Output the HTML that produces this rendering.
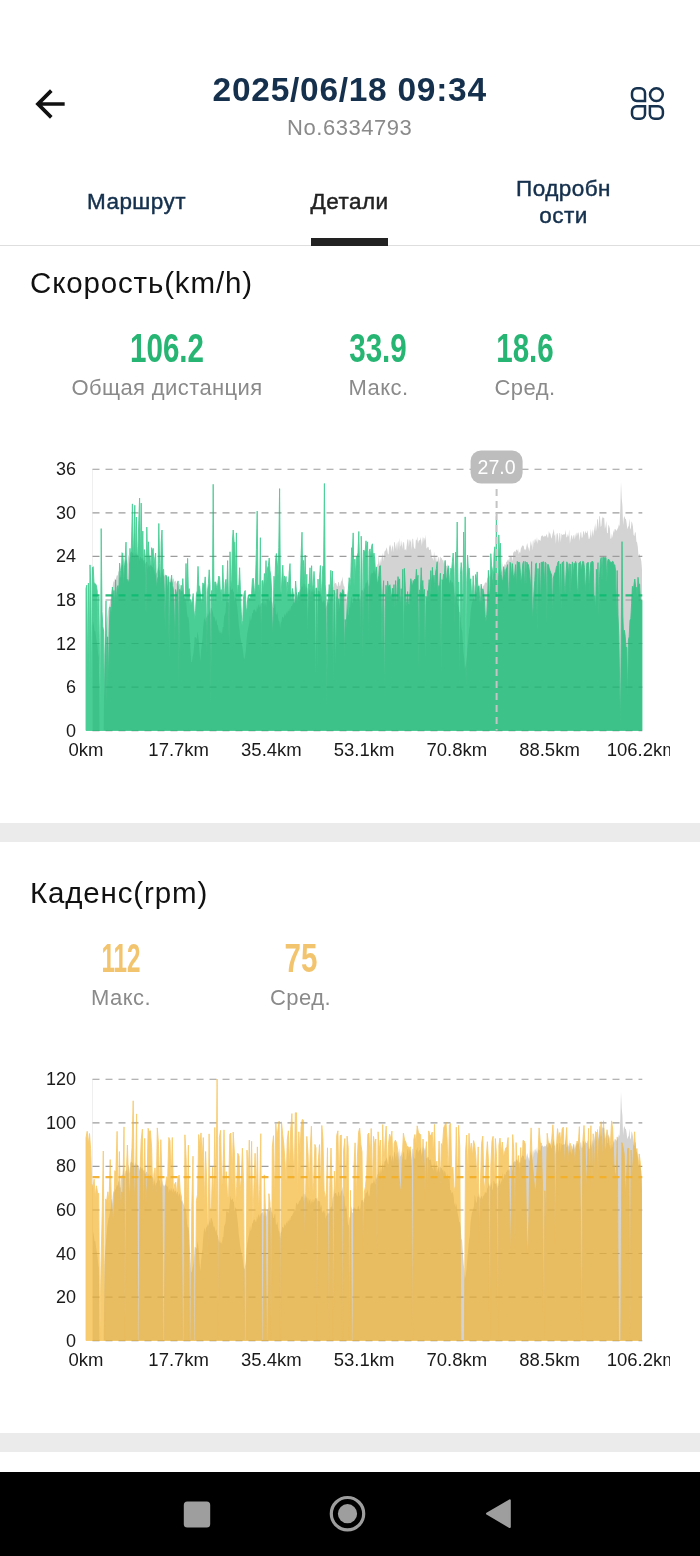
<!DOCTYPE html>
<html lang="ru">
<head>
<meta charset="utf-8">
<title>2025/06/18 09:34</title>
<style>
*{margin:0;padding:0;box-sizing:border-box}
html,body{width:700px;height:1556px;overflow:hidden;background:#fff}
body{position:relative;font-family:"Liberation Sans",sans-serif;color:#111}
.abs{position:absolute;white-space:nowrap}
.c{transform:translateX(-50%)}
.title{left:349.7px;top:70px;font-size:33.5px;line-height:40px;font-weight:700;color:#14304d;letter-spacing:.72px}
.sub{left:349.7px;top:114.5px;font-size:22px;line-height:26px;color:#8a8a8a;letter-spacing:.55px}
.tab{font-size:22.5px;line-height:26px;letter-spacing:.45px;color:#14304d;text-align:center;-webkit-text-stroke:0.45px currentColor}
.tab.on{color:#222}
.ind{left:310.5px;top:238px;width:77.7px;height:8px;background:#222}
.hr{left:0;top:245px;width:700px;height:1.4px;background:#dedede}
.h2{left:30px;font-size:29.5px;line-height:34px;color:#111;letter-spacing:.85px}
.num{font-size:40.5px;line-height:40px;margin-top:-.1px;font-weight:700;transform:translateX(-50%) scaleX(.73);transform-origin:50% 50%}
.g{color:#27b573}
.o{color:#f3c46e}
.lbl{font-size:22px;line-height:26px;color:#8a8a8a;letter-spacing:.4px}
.sep{left:0;width:700px;height:19px;background:#ebebeb}
.chart{position:absolute;left:0;font-family:"Liberation Sans",sans-serif}
.nav{left:0;top:1471.5px;width:700px;height:85px;background:#000}
</style>
</head>
<body>
<!-- header -->
<svg class="abs" style="left:28.4px;top:82px" width="44" height="44" viewBox="0 0 24 24"><path d="M20 11H7.83l5.59-5.59L12 4l-8 8 8 8 1.41-1.41L7.83 13H20v-2z" fill="#111"/></svg>
<div class="abs c title">2025/06/18 09:34</div>
<div class="abs c sub">No.6334793</div>
<svg class="abs" style="left:626px;top:82px" width="44" height="44" viewBox="0 0 44 44" fill="none" stroke="#16324f" stroke-width="2.5">
<path d="M10.8,6.3H14.2A4.8,4.8 0 0 1 19,11.1V18.9H10.8A4.8,4.8 0 0 1 6,14.1V11.1A4.8,4.8 0 0 1 10.8,6.3Z"/>
<circle cx="30.4" cy="12.6" r="6.4"/>
<path d="M10.8,24.2H19V32A4.8,4.8 0 0 1 14.2,36.8H10.8A4.8,4.8 0 0 1 6,32V29A4.8,4.8 0 0 1 10.8,24.2Z"/>
<path d="M23.9,24.2H32.1A4.8,4.8 0 0 1 36.9,29V32A4.8,4.8 0 0 1 32.1,36.8H28.7A4.8,4.8 0 0 1 23.9,32Z"/>
</svg>
<!-- tabs -->
<div class="abs c tab" style="left:136.5px;top:189px">Маршрут</div>
<div class="abs c tab on" style="left:349.5px;top:189px">Детали</div>
<div class="abs c tab" style="left:563.5px;top:176.2px;line-height:26.9px">Подробн<br>ости</div>
<div class="abs hr"></div>
<div class="abs ind"></div>

<!-- speed -->
<div class="abs h2" style="top:266px">Скорость(km/h)</div>
<div class="abs num g" style="left:166.5px;top:328px">106.2</div>
<div class="abs c lbl" style="left:167px;top:375px">Общая дистанция</div>
<div class="abs num g" style="left:378px;top:328px">33.9</div>
<div class="abs c lbl" style="left:378.5px;top:375px">Макс.</div>
<div class="abs num g" style="left:525px;top:328px">18.6</div>
<div class="abs c lbl" style="left:525px;top:375px">Сред.</div>
<svg class="chart" style="top:439px" width="670" height="330" viewBox="0 439 670 330">
<path d="M92.5,730.5L92.5,618.4L93.2,621.9L93.9,626.3L94.6,631.2L95.3,630.9L96.0,636.7L96.7,641.6L97.4,645.4L98.1,653.8L98.8,657.6L99.5,730.5L100.2,730.5L100.9,730.5L101.6,730.5L102.3,730.5L103.0,730.5L103.7,730.5L104.4,655.0L105.1,642.0L105.8,633.4L106.5,625.6L107.2,617.1L107.9,612.1L108.6,608.1L109.3,606.4L110.0,601.6L110.7,599.7L111.4,588.6L112.1,593.5L112.8,585.2L113.5,580.9L114.2,582.2L114.9,577.9L115.6,580.4L116.3,576.9L117.0,574.8L117.7,575.9L118.4,571.4L119.1,571.1L119.8,578.1L120.5,577.2L121.2,566.2L121.9,564.8L122.6,565.2L123.3,556.8L124.0,561.9L124.7,567.8L125.4,560.5L126.1,561.3L126.8,558.9L127.5,564.2L128.2,556.3L128.9,554.4L129.6,563.4L130.3,553.2L131.0,551.7L131.7,551.8L132.4,553.4L133.1,551.8L133.8,555.7L134.5,555.8L135.2,552.2L135.9,555.9L136.6,554.1L137.3,554.8L138.0,554.9L138.7,557.1L139.4,560.9L140.1,556.3L140.8,557.0L141.5,559.0L142.2,557.7L142.9,559.4L143.6,560.8L144.3,559.7L145.0,564.4L145.7,562.7L146.4,561.4L147.1,562.2L147.8,569.5L148.5,563.8L149.2,567.6L149.9,565.1L150.6,565.2L151.3,565.6L152.0,567.0L152.7,567.4L153.4,560.2L154.1,574.2L154.8,568.9L155.5,575.9L156.2,573.3L156.9,572.6L157.6,569.5L158.3,565.8L159.0,570.4L159.7,570.0L160.4,575.0L161.1,578.5L161.8,569.6L162.5,572.0L163.2,576.3L163.9,574.1L164.6,576.5L165.3,574.0L166.0,575.9L166.7,575.4L167.4,577.3L168.1,575.4L168.8,583.5L169.5,578.2L170.2,581.5L170.9,577.5L171.6,579.0L172.3,582.9L173.0,578.3L173.7,578.7L174.4,582.5L175.1,580.6L175.8,581.3L176.5,583.9L177.2,581.7L177.9,582.0L178.6,587.0L179.3,583.0L180.0,584.7L180.7,589.4L181.4,591.7L182.1,589.8L182.8,592.3L183.5,593.8L184.2,596.2L184.9,598.8L185.6,598.6L186.3,603.2L187.0,613.2L187.7,617.4L188.4,617.0L189.1,622.5L189.8,637.4L190.5,650.5L191.2,662.1L191.9,662.3L192.6,657.2L193.3,654.4L194.0,647.2L194.7,636.8L195.4,637.2L196.1,637.7L196.8,638.9L197.5,630.9L198.2,635.2L198.9,642.4L199.6,653.2L200.3,661.2L201.0,652.3L201.7,644.4L202.4,639.4L203.1,629.1L203.8,621.1L204.5,617.3L205.2,622.5L205.9,618.7L206.6,617.0L207.3,615.7L208.0,613.0L208.7,616.0L209.4,609.0L210.1,614.0L210.8,608.1L211.5,608.0L212.2,610.0L212.9,612.4L213.6,617.0L214.3,616.2L215.0,618.8L215.7,621.9L216.4,618.8L217.1,624.4L217.8,625.4L218.5,629.4L219.2,632.9L219.9,630.0L220.6,633.2L221.3,631.9L222.0,634.2L222.7,627.1L223.4,627.1L224.1,616.4L224.8,614.7L225.5,612.8L226.2,602.3L226.9,600.5L227.6,602.1L228.3,602.9L229.0,600.6L229.7,594.2L230.4,585.5L231.1,589.8L231.8,590.1L232.5,588.0L233.2,591.4L233.9,592.0L234.6,601.0L235.3,597.7L236.0,597.7L236.7,603.2L237.4,608.9L238.1,616.0L238.8,624.7L239.5,629.7L240.2,636.2L240.9,640.1L241.6,643.8L242.3,645.9L243.0,650.9L243.7,656.9L244.4,659.4L245.1,655.9L245.8,651.2L246.5,640.6L247.2,633.8L247.9,630.1L248.6,626.0L249.3,623.2L250.0,615.2L250.7,621.3L251.4,619.0L252.1,613.5L252.8,613.0L253.5,610.1L254.2,609.8L254.9,609.3L255.6,611.7L256.3,611.8L257.0,605.5L257.7,609.5L258.4,604.4L259.1,604.7L259.8,607.7L260.5,604.8L261.2,603.0L261.9,603.6L262.6,601.4L263.3,600.3L264.0,606.7L264.7,601.3L265.4,602.5L266.1,607.0L266.8,599.8L267.5,600.7L268.2,597.6L268.9,601.6L269.6,600.0L270.3,597.8L271.0,597.1L271.7,602.0L272.4,602.7L273.1,607.9L273.8,608.0L274.5,604.8L275.2,603.2L275.9,614.2L276.6,614.8L277.3,611.6L278.0,617.1L278.7,621.1L279.4,621.4L280.1,628.7L280.8,622.7L281.5,621.4L282.2,617.0L282.9,616.8L283.6,618.4L284.3,615.0L285.0,613.6L285.7,616.2L286.4,611.5L287.1,614.2L287.8,610.7L288.5,611.4L289.2,608.0L289.9,611.7L290.6,607.9L291.3,605.9L292.0,605.9L292.7,603.9L293.4,603.3L294.1,599.2L294.8,601.9L295.5,599.1L296.2,592.5L296.9,593.3L297.6,594.7L298.3,594.0L299.0,591.5L299.7,590.6L300.4,590.3L301.1,587.7L301.8,586.0L302.5,587.3L303.2,583.0L303.9,591.8L304.6,583.5L305.3,584.5L306.0,588.9L306.7,586.1L307.4,588.3L308.1,594.2L308.8,587.5L309.5,591.2L310.2,588.7L310.9,595.3L311.6,590.3L312.3,592.7L313.0,588.7L313.7,592.7L314.4,590.4L315.1,588.6L315.8,587.7L316.5,588.9L317.2,587.3L317.9,591.4L318.6,590.7L319.3,590.9L320.0,591.9L320.7,597.9L321.4,594.4L322.1,601.3L322.8,603.0L323.5,599.7L324.2,603.7L324.9,599.3L325.6,609.3L326.3,606.1L327.0,605.0L327.7,602.3L328.4,604.0L329.1,598.7L329.8,604.1L330.5,597.1L331.2,597.5L331.9,595.6L332.6,588.5L333.3,586.2L334.0,577.9L334.7,583.9L335.4,583.1L336.1,583.0L336.8,585.4L337.5,586.7L338.2,582.1L338.9,582.3L339.6,586.3L340.3,585.5L341.0,581.6L341.7,581.0L342.4,576.5L343.1,583.1L343.8,586.0L344.5,586.8L345.2,598.9L345.9,594.8L346.6,599.1L347.3,607.1L348.0,614.4L348.7,615.5L349.4,606.8L350.1,608.1L350.8,600.0L351.5,595.9L352.2,602.2L352.9,603.2L353.6,597.0L354.3,598.5L355.0,597.0L355.7,600.0L356.4,599.9L357.1,602.1L357.8,596.5L358.5,595.5L359.2,598.5L359.9,600.4L360.6,597.6L361.3,590.1L362.0,590.4L362.7,589.8L363.4,592.4L364.1,586.9L364.8,589.8L365.5,583.6L366.2,582.0L366.9,583.5L367.6,578.9L368.3,584.4L369.0,586.7L369.7,584.6L370.4,575.9L371.1,572.4L371.8,574.0L372.5,573.1L373.2,572.7L373.9,569.6L374.6,571.9L375.3,574.8L376.0,565.7L376.7,569.4L377.4,564.7L378.1,563.7L378.8,555.2L379.5,566.0L380.2,558.6L380.9,564.3L381.6,558.0L382.3,556.0L383.0,552.4L383.7,561.6L384.4,551.7L385.1,551.1L385.8,550.0L386.5,547.3L387.2,549.4L387.9,553.8L388.6,554.8L389.3,544.6L390.0,547.3L390.7,544.2L391.4,552.1L392.1,547.3L392.8,545.1L393.5,552.4L394.2,542.2L394.9,542.0L395.6,549.3L396.3,542.2L397.0,551.3L397.7,542.8L398.4,541.1L399.1,550.2L399.8,537.7L400.5,546.8L401.2,544.9L401.9,540.2L402.6,548.9L403.3,542.6L404.0,541.7L404.7,550.2L405.4,548.9L406.1,550.8L406.8,544.2L407.5,539.3L408.2,539.5L408.9,546.9L409.6,539.0L410.3,542.2L411.0,539.0L411.7,549.9L412.4,538.8L413.1,538.7L413.8,546.8L414.5,548.5L415.2,549.3L415.9,539.5L416.6,540.5L417.3,536.4L418.0,543.8L418.7,540.8L419.4,540.2L420.1,540.0L420.8,536.9L421.5,546.3L422.2,536.3L422.9,544.0L423.6,537.5L424.3,537.9L425.0,541.0L425.7,534.7L426.4,548.6L427.1,547.9L427.8,546.8L428.5,547.1L429.2,550.1L429.9,550.1L430.6,549.1L431.3,552.6L432.0,558.8L432.7,557.5L433.4,560.9L434.1,551.4L434.8,557.7L435.5,557.0L436.2,563.2L436.9,556.3L437.6,562.4L438.3,557.7L439.0,556.4L439.7,563.2L440.4,556.1L441.1,558.0L441.8,558.3L442.5,560.4L443.2,559.7L443.9,563.7L444.6,560.4L445.3,562.1L446.0,565.8L446.7,566.0L447.4,564.0L448.1,569.4L448.8,568.0L449.5,567.4L450.2,580.5L450.9,579.8L451.6,583.5L452.3,581.7L453.0,583.0L453.7,587.1L454.4,595.5L455.1,592.0L455.8,597.4L456.5,593.2L457.2,600.8L457.9,604.6L458.6,607.7L459.3,612.3L460.0,612.0L460.7,617.5L461.4,628.8L462.1,630.2L462.8,642.4L463.5,652.9L464.2,658.5L464.9,668.9L465.6,665.7L466.3,661.0L467.0,653.9L467.7,644.3L468.4,637.2L469.1,629.4L469.8,625.8L470.5,613.0L471.2,607.4L471.9,602.6L472.6,601.3L473.3,598.8L474.0,595.9L474.7,584.2L475.4,587.3L476.1,592.9L476.8,592.1L477.5,586.2L478.2,587.3L478.9,582.9L479.6,587.0L480.3,589.0L481.0,586.7L481.7,585.8L482.4,589.4L483.1,585.1L483.8,586.6L484.5,584.0L485.2,581.9L485.9,582.9L486.6,582.7L487.3,578.3L488.0,577.3L488.7,571.7L489.4,576.8L490.1,573.0L490.8,577.7L491.5,570.5L492.2,579.5L492.9,579.8L493.6,570.7L494.3,571.6L495.0,573.9L495.7,573.4L496.4,573.1L497.1,578.0L497.8,572.5L498.5,576.0L499.2,568.8L499.9,571.0L500.6,575.1L501.3,569.5L502.0,572.8L502.7,561.6L503.4,569.9L504.1,566.1L504.8,563.7L505.5,565.5L506.2,561.7L506.9,561.7L507.6,560.0L508.3,559.2L509.0,561.4L509.7,557.0L510.4,556.5L511.1,555.5L511.8,557.3L512.5,561.4L513.2,552.3L513.9,552.6L514.6,550.7L515.3,552.3L516.0,550.2L516.7,549.3L517.4,551.3L518.1,548.6L518.8,554.4L519.5,551.5L520.2,552.9L520.9,548.5L521.6,546.9L522.3,545.6L523.0,545.6L523.7,545.9L524.4,550.1L525.1,548.8L525.8,550.4L526.5,546.1L527.2,543.0L527.9,546.6L528.6,548.2L529.3,551.6L530.0,546.9L530.7,540.6L531.4,546.5L532.1,540.3L532.8,550.5L533.5,541.8L534.2,539.0L534.9,543.5L535.6,538.3L536.3,542.1L537.0,536.9L537.7,544.0L538.4,538.9L539.1,540.5L539.8,539.7L540.5,541.3L541.2,535.4L541.9,536.4L542.6,535.1L543.3,536.5L544.0,536.9L544.7,535.6L545.4,536.6L546.1,535.4L546.8,533.8L547.5,537.5L548.2,537.6L548.9,531.0L549.6,533.5L550.3,533.6L551.0,536.9L551.7,538.8L552.4,534.4L553.1,532.1L553.8,528.7L554.5,535.9L555.2,534.3L555.9,544.1L556.6,534.0L557.3,532.7L558.0,535.4L558.7,543.0L559.4,533.0L560.1,533.2L560.8,542.3L561.5,533.6L562.2,534.8L562.9,534.9L563.6,534.2L564.3,534.3L565.0,534.4L565.7,529.8L566.4,537.5L567.1,537.1L567.8,534.0L568.5,537.0L569.2,529.3L569.9,543.8L570.6,539.5L571.3,535.3L572.0,535.6L572.7,539.7L573.4,535.8L574.1,534.6L574.8,539.4L575.5,535.4L576.2,532.3L576.9,536.4L577.6,532.9L578.3,532.2L579.0,534.9L579.7,541.0L580.4,532.9L581.1,531.4L581.8,538.0L582.5,537.3L583.2,531.5L583.9,531.2L584.6,535.5L585.3,530.5L586.0,532.9L586.7,532.9L587.4,530.2L588.1,534.5L588.8,539.3L589.5,538.6L590.2,534.9L590.9,528.8L591.6,538.1L592.3,532.4L593.0,528.9L593.7,536.4L594.4,525.0L595.1,531.8L595.8,523.0L596.5,531.3L597.2,519.2L597.9,519.3L598.6,529.0L599.3,516.1L600.0,516.5L600.7,526.9L601.4,525.8L602.1,516.2L602.8,518.6L603.5,517.6L604.2,517.9L604.9,529.0L605.6,525.9L606.3,520.7L607.0,533.1L607.7,533.2L608.4,524.5L609.1,525.9L609.8,528.3L610.5,538.8L611.2,538.4L611.9,533.6L612.6,538.1L613.3,529.9L614.0,532.9L614.7,528.9L615.4,528.9L616.1,530.4L616.8,530.4L617.5,528.8L618.2,527.4L618.9,524.2L619.6,526.4L620.3,508.5L621.0,481.4L621.7,498.3L622.4,505.5L623.1,525.3L623.8,517.8L624.5,516.1L625.2,519.0L625.9,518.7L626.6,523.0L627.3,529.3L628.0,527.0L628.7,525.9L629.4,518.4L630.1,527.8L630.8,529.8L631.5,521.3L632.2,522.7L632.9,526.3L633.6,534.8L634.3,536.2L635.0,532.1L635.7,532.7L636.4,541.5L637.1,542.5L637.8,546.7L638.5,555.9L639.2,553.7L639.9,555.3L640.6,558.0L641.3,561.1L642.0,569.4L642.0,730.5Z" fill="#d3d3d3"/>
<line x1="92.5" y1="469.0" x2="92.5" y2="730.5" stroke="#efefef" stroke-width="1"/>
<line x1="92.5" y1="730.7" x2="642.3" y2="730.7" stroke="#9c9c9c" stroke-width="1.15" stroke-dasharray="7 6" />
<line x1="92.5" y1="687.1" x2="642.3" y2="687.1" stroke="#9c9c9c" stroke-width="1.15" stroke-dasharray="7 6" />
<line x1="92.5" y1="643.5" x2="642.3" y2="643.5" stroke="#9c9c9c" stroke-width="1.15" stroke-dasharray="7 6" />
<line x1="92.5" y1="600.0" x2="642.3" y2="600.0" stroke="#9c9c9c" stroke-width="1.15" stroke-dasharray="7 6" />
<line x1="92.5" y1="556.4" x2="642.3" y2="556.4" stroke="#9c9c9c" stroke-width="1.15" stroke-dasharray="7 6" />
<line x1="92.5" y1="512.8" x2="642.3" y2="512.8" stroke="#9c9c9c" stroke-width="1.15" stroke-dasharray="7 6" />
<line x1="92.5" y1="469.2" x2="642.3" y2="469.2" stroke="#9c9c9c" stroke-width="1.15" stroke-dasharray="7 6" />
<line x1="92.5" y1="595.4" x2="642.3" y2="595.4" stroke="#2fba7e" stroke-width="2.3" stroke-dasharray="7 6" />
<g opacity="0.73"><path d="M86.0,730.5L86.0,588.5L86.8,585.2L87.6,680.3L88.4,583.1L89.2,681.0L90.0,564.9L90.8,586.4L91.6,694.2L92.4,567.7L93.2,566.7L94.0,583.2L94.8,583.3L95.6,584.0L96.4,585.6L97.2,590.8L98.0,635.3L98.8,596.6L99.6,664.1L100.4,705.4L101.2,528.6L102.0,611.6L102.8,626.4L103.6,631.2L104.4,711.4L105.2,642.9L106.0,600.9L106.8,706.7L107.6,636.8L108.4,681.9L109.2,631.4L110.0,606.9L110.8,615.9L111.6,603.3L112.4,587.0L113.2,598.3L114.0,590.5L114.8,605.0L115.6,579.8L116.4,601.6L117.2,587.6L118.0,585.5L118.8,592.5L119.6,563.1L120.4,570.5L121.2,579.2L122.0,552.7L122.8,553.5L123.6,589.1L124.4,567.7L125.2,558.5L126.0,542.1L126.8,579.0L127.6,580.0L128.4,583.2L129.2,578.5L130.0,548.4L130.8,562.8L131.6,540.0L132.4,503.9L133.2,564.0L134.0,535.0L134.8,505.3L135.6,565.6L136.4,517.0L137.2,567.5L138.0,546.6L138.8,520.8L139.6,498.1L140.4,563.2L141.2,503.1L142.0,555.8L142.8,531.1L143.6,573.2L144.4,549.6L145.2,555.5L146.0,614.9L146.8,527.1L147.6,564.2L148.4,541.8L149.2,559.1L150.0,555.8L150.8,573.7L151.6,547.7L152.4,551.7L153.2,548.4L154.0,570.3L154.8,557.8L155.6,553.0L156.4,587.7L157.2,581.8L158.0,576.3L158.8,523.5L159.6,563.6L160.4,591.2L161.2,542.2L162.0,530.0L162.8,570.0L163.6,569.4L164.4,593.1L165.2,630.7L166.0,575.2L166.8,580.1L167.6,593.5L168.4,576.6L169.2,663.2L170.0,582.4L170.8,583.8L171.6,575.2L172.4,585.5L173.2,588.5L174.0,600.7L174.8,644.3L175.6,589.5L176.4,593.3L177.2,604.3L178.0,580.9L178.8,680.3L179.6,589.4L180.4,595.5L181.2,585.3L182.0,590.9L182.8,578.6L183.6,594.3L184.4,597.1L185.2,603.9L186.0,563.5L186.8,599.3L187.6,558.3L188.4,592.4L189.2,588.6L190.0,605.3L190.8,599.5L191.6,604.9L192.4,600.6L193.2,593.6L194.0,610.2L194.8,619.6L195.6,610.1L196.4,594.4L197.2,590.8L198.0,566.4L198.8,585.2L199.6,586.4L200.4,595.1L201.2,600.3L202.0,602.4L202.8,582.9L203.6,584.1L204.4,586.0L205.2,576.9L206.0,591.7L206.8,653.5L207.6,590.3L208.4,583.5L209.2,569.8L210.0,584.6L210.8,700.2L211.6,590.5L212.4,604.7L213.2,484.3L214.0,604.7L214.8,581.9L215.6,582.0L216.4,585.6L217.2,589.4L218.0,582.3L218.8,576.0L219.6,577.5L220.4,593.8L221.2,589.6L222.0,601.7L222.8,565.2L223.6,588.8L224.4,601.4L225.2,582.7L226.0,579.3L226.8,592.7L227.6,560.6L228.4,596.5L229.2,649.2L230.0,551.8L230.8,579.5L231.6,586.8L232.4,540.9L233.2,530.0L234.0,541.5L234.8,542.4L235.6,584.2L236.4,532.9L237.2,599.1L238.0,585.2L238.8,586.6L239.6,567.7L240.4,589.8L241.2,611.9L242.0,625.2L242.8,620.7L243.6,596.5L244.4,592.2L245.2,590.5L246.0,607.5L246.8,612.7L247.6,599.6L248.4,595.1L249.2,598.6L250.0,598.5L250.8,596.0L251.6,593.6L252.4,579.5L253.2,578.1L254.0,587.6L254.8,596.7L255.6,578.2L256.4,549.6L257.2,511.1L258.0,592.8L258.8,584.8L259.6,593.1L260.4,537.7L261.2,655.3L262.0,580.9L262.8,580.6L263.6,588.8L264.4,573.5L265.2,585.0L266.0,560.6L266.8,582.4L267.6,567.5L268.4,565.7L269.2,558.0L270.0,570.8L270.8,576.1L271.6,590.8L272.4,635.6L273.2,617.0L274.0,576.2L274.8,588.9L275.6,560.2L276.4,553.5L277.2,562.2L278.0,577.1L278.8,547.7L279.6,488.6L280.4,589.1L281.2,593.8L282.0,576.1L282.8,565.2L283.6,586.8L284.4,575.9L285.2,582.1L286.0,576.5L286.8,595.7L287.6,582.0L288.4,587.8L289.2,572.0L290.0,563.6L290.8,589.4L291.6,602.3L292.4,588.5L293.2,593.2L294.0,602.2L294.8,604.2L295.6,581.0L296.4,591.8L297.2,603.8L298.0,595.6L298.8,592.2L299.6,598.1L300.4,588.2L301.2,553.4L302.0,532.2L302.8,584.0L303.6,560.4L304.4,584.0L305.2,555.1L306.0,600.7L306.8,574.3L307.6,643.0L308.4,584.3L309.2,584.2L310.0,567.8L310.8,597.3L311.6,565.7L312.4,589.8L313.2,584.8L314.0,571.4L314.8,584.8L315.6,698.3L316.4,587.8L317.2,672.9L318.0,579.1L318.8,602.8L319.6,577.3L320.4,565.5L321.2,602.0L322.0,583.6L322.8,566.2L323.6,566.0L324.4,483.5L325.2,584.2L326.0,597.3L326.8,700.5L327.6,601.5L328.4,599.6L329.2,584.6L330.0,591.8L330.8,570.3L331.6,588.9L332.4,571.1L333.2,681.7L334.0,590.1L334.8,594.1L335.6,681.2L336.4,601.6L337.2,589.1L338.0,612.2L338.8,598.7L339.6,612.7L340.4,592.5L341.2,593.8L342.0,592.8L342.8,589.5L343.6,592.1L344.4,658.6L345.2,619.5L346.0,628.8L346.8,615.0L347.6,596.8L348.4,589.0L349.2,577.7L350.0,585.9L350.8,577.7L351.6,547.7L352.4,551.9L353.2,532.9L354.0,585.7L354.8,559.2L355.6,576.4L356.4,556.5L357.2,556.7L358.0,552.8L358.8,531.5L359.6,570.9L360.4,646.2L361.2,536.2L362.0,562.2L362.8,658.2L363.6,550.0L364.4,551.2L365.2,551.3L366.0,540.8L366.8,550.4L367.6,541.9L368.4,645.9L369.2,551.5L370.0,548.9L370.8,557.3L371.6,546.3L372.4,543.8L373.2,557.5L374.0,553.1L374.8,559.9L375.6,575.3L376.4,566.9L377.2,583.9L378.0,581.2L378.8,575.7L379.6,566.0L380.4,565.7L381.2,593.1L382.0,649.4L382.8,595.0L383.6,580.7L384.4,695.1L385.2,608.5L386.0,585.3L386.8,600.8L387.6,581.1L388.4,586.9L389.2,586.1L390.0,584.8L390.8,595.1L391.6,598.0L392.4,588.3L393.2,596.3L394.0,584.6L394.8,609.8L395.6,580.6L396.4,609.9L397.2,587.8L398.0,576.6L398.8,582.8L399.6,578.9L400.4,606.9L401.2,588.7L402.0,600.6L402.8,569.3L403.6,665.2L404.4,568.4L405.2,585.2L406.0,606.7L406.8,601.3L407.6,591.6L408.4,603.5L409.2,604.4L410.0,591.7L410.8,578.7L411.6,583.2L412.4,586.5L413.2,580.5L414.0,582.1L414.8,579.0L415.6,580.9L416.4,569.3L417.2,581.3L418.0,575.3L418.8,670.7L419.6,590.0L420.4,590.7L421.2,567.7L422.0,587.5L422.8,580.5L423.6,597.2L424.4,589.4L425.2,662.9L426.0,596.3L426.8,601.2L427.6,590.8L428.4,590.3L429.2,579.6L430.0,596.0L430.8,570.6L431.6,586.8L432.4,567.4L433.2,583.4L434.0,575.2L434.8,588.2L435.6,572.3L436.4,568.4L437.2,561.7L438.0,593.5L438.8,585.6L439.6,586.3L440.4,573.3L441.2,674.4L442.0,579.7L442.8,581.4L443.6,574.2L444.4,576.0L445.2,560.4L446.0,578.6L446.8,578.7L447.6,569.7L448.4,565.8L449.2,585.6L450.0,581.8L450.8,568.2L451.6,570.2L452.4,561.3L453.2,553.0L454.0,569.8L454.8,627.4L455.6,552.0L456.4,572.4L457.2,522.0L458.0,582.7L458.8,582.3L459.6,690.8L460.4,574.4L461.2,562.6L462.0,572.3L462.8,633.9L463.6,532.0L464.4,589.8L465.2,516.9L466.0,687.4L466.8,580.9L467.6,555.1L468.4,571.3L469.2,568.1L470.0,581.4L470.8,578.8L471.6,596.4L472.4,595.0L473.2,575.8L474.0,599.4L474.8,600.2L475.6,574.5L476.4,582.4L477.2,571.9L478.0,596.1L478.8,585.8L479.6,598.3L480.4,606.7L481.2,584.2L482.0,603.4L482.8,588.8L483.6,592.3L484.4,600.2L485.2,616.7L486.0,621.5L486.8,614.2L487.6,599.1L488.4,570.3L489.2,601.0L490.0,590.5L490.8,553.7L491.6,565.8L492.4,569.8L493.2,589.7L494.0,554.5L494.8,546.8L495.6,586.2L496.4,516.2L497.2,658.2L498.0,585.3L498.8,534.9L499.6,555.6L500.4,543.2L501.2,574.3L502.0,579.3L502.8,581.8L503.6,566.7L504.4,571.2L505.2,576.9L506.0,569.1L506.8,567.6L507.6,564.6L508.4,595.0L509.2,595.1L510.0,562.3L510.8,563.7L511.6,578.0L512.4,563.6L513.2,574.9L514.0,577.9L514.8,573.0L515.6,564.6L516.4,588.4L517.2,561.4L518.0,562.0L518.8,562.6L519.6,562.4L520.4,572.8L521.2,584.1L522.0,575.0L522.8,563.7L523.6,561.3L524.4,590.1L525.2,561.4L526.0,585.1L526.8,562.1L527.6,564.1L528.4,564.6L529.2,569.9L530.0,578.8L530.8,591.5L531.6,561.6L532.4,620.0L533.2,606.9L534.0,591.4L534.8,580.5L535.6,563.8L536.4,563.1L537.2,634.5L538.0,568.5L538.8,590.6L539.6,563.2L540.4,609.5L541.2,562.2L542.0,562.6L542.8,562.0L543.6,561.7L544.4,586.6L545.2,562.1L546.0,562.9L546.8,623.4L547.6,564.5L548.4,564.6L549.2,568.2L550.0,570.7L550.8,573.0L551.6,575.0L552.4,613.6L553.2,578.3L554.0,575.4L554.8,573.0L555.6,571.8L556.4,567.0L557.2,565.6L558.0,561.9L558.8,561.3L559.6,603.8L560.4,563.9L561.2,613.0L562.0,563.0L562.8,561.9L563.6,561.3L564.4,585.9L565.2,594.3L566.0,574.5L566.8,561.8L567.6,564.1L568.4,575.8L569.2,563.6L570.0,594.1L570.8,564.1L571.6,588.8L572.4,561.9L573.2,576.6L574.0,563.3L574.8,564.3L575.6,561.4L576.4,563.5L577.2,587.8L578.0,594.8L578.8,563.1L579.6,562.3L580.4,561.5L581.2,572.1L582.0,564.7L582.8,561.3L583.6,561.8L584.4,567.5L585.2,592.2L586.0,579.8L586.8,563.4L587.6,562.5L588.4,562.5L589.2,591.4L590.0,572.2L590.8,562.4L591.6,562.0L592.4,561.1L593.2,562.4L594.0,596.4L594.8,595.8L595.6,610.6L596.4,569.3L597.2,585.2L598.0,562.6L598.8,617.4L599.6,576.3L600.4,561.0L601.2,557.5L602.0,580.6L602.8,557.3L603.6,557.3L604.4,557.7L605.2,557.8L606.0,557.5L606.8,583.6L607.6,561.2L608.4,559.0L609.2,560.1L610.0,561.8L610.8,562.3L611.6,562.5L612.4,561.3L613.2,561.7L614.0,565.0L614.8,564.9L615.6,571.1L616.4,620.4L617.2,570.5L618.0,614.7L618.8,635.3L619.6,680.4L620.4,724.7L621.2,645.2L622.0,541.6L622.8,616.1L623.6,636.2L624.4,630.3L625.2,636.3L626.0,647.5L626.8,647.5L627.6,703.0L628.4,640.0L629.2,636.7L630.0,620.2L630.8,618.8L631.6,603.6L632.4,586.3L633.2,591.5L634.0,584.5L634.8,579.1L635.6,586.5L636.4,587.3L637.2,597.0L638.0,577.3L638.8,584.8L639.6,584.1L640.4,600.4L641.2,600.6L642.0,600.4L642.0,730.5Z" fill="rgb(7,188,111)" stroke="rgb(7,188,111)" stroke-width="0.9" stroke-linejoin="round"/></g>
<line x1="496.6" y1="489.0" x2="496.6" y2="730.5" stroke="#c4c4c4" stroke-width="2" stroke-dasharray="7 5"/>
<rect x="470.6" y="450.5" width="52" height="33" rx="10.5" fill="#bdbdbd"/>
<text x="496.6" y="474.0" text-anchor="middle" font-size="19.5" fill="#fff">27.0</text>
<text x="76" y="736.7" text-anchor="end" font-size="18" fill="#1a1a1a">0</text>
<text x="76" y="693.1" text-anchor="end" font-size="18" fill="#1a1a1a">6</text>
<text x="76" y="649.5" text-anchor="end" font-size="18" fill="#1a1a1a">12</text>
<text x="76" y="606.0" text-anchor="end" font-size="18" fill="#1a1a1a">18</text>
<text x="76" y="562.4" text-anchor="end" font-size="18" fill="#1a1a1a">24</text>
<text x="76" y="518.8" text-anchor="end" font-size="18" fill="#1a1a1a">30</text>
<text x="76" y="475.2" text-anchor="end" font-size="18" fill="#1a1a1a">36</text>
<text x="86.0" y="755.7" text-anchor="middle" font-size="18.5" fill="#1a1a1a">0km</text>
<text x="178.7" y="755.7" text-anchor="middle" font-size="18.5" fill="#1a1a1a">17.7km</text>
<text x="271.4" y="755.7" text-anchor="middle" font-size="18.5" fill="#1a1a1a">35.4km</text>
<text x="364.1" y="755.7" text-anchor="middle" font-size="18.5" fill="#1a1a1a">53.1km</text>
<text x="456.8" y="755.7" text-anchor="middle" font-size="18.5" fill="#1a1a1a">70.8km</text>
<text x="549.5" y="755.7" text-anchor="middle" font-size="18.5" fill="#1a1a1a">88.5km</text>
<text x="642.2" y="755.7" text-anchor="middle" font-size="18.5" fill="#1a1a1a">106.2km</text>
</svg>

<div class="abs sep" style="top:822.5px"></div>

<!-- cadence -->
<div class="abs h2" style="top:876px">Каденс(rpm)</div>
<div class="abs num o" style="left:120.8px;top:938px;transform:translateX(-50%) scaleX(.6)">112</div>
<div class="abs c lbl" style="left:121px;top:985px">Макс.</div>
<div class="abs num o" style="left:300.5px;top:938px">75</div>
<div class="abs c lbl" style="left:300.5px;top:985px">Сред.</div>
<svg class="chart" style="top:1049px" width="670" height="330" viewBox="0 1049 670 330">
<path d="M92.5,1340.5L92.5,1228.4L93.2,1231.9L93.9,1236.3L94.6,1241.2L95.3,1240.9L96.0,1246.7L96.7,1251.6L97.4,1255.4L98.1,1263.8L98.8,1267.6L99.5,1340.5L100.2,1340.5L100.9,1340.5L101.6,1340.5L102.3,1340.5L103.0,1340.5L103.7,1340.5L104.4,1265.0L105.1,1252.0L105.8,1243.4L106.5,1235.6L107.2,1227.1L107.9,1222.1L108.6,1218.1L109.3,1216.4L110.0,1211.6L110.7,1209.7L111.4,1198.6L112.1,1203.5L112.8,1195.2L113.5,1190.9L114.2,1192.2L114.9,1187.9L115.6,1190.4L116.3,1186.9L117.0,1184.8L117.7,1185.9L118.4,1181.4L119.1,1181.1L119.8,1188.1L120.5,1187.2L121.2,1176.2L121.9,1174.8L122.6,1175.2L123.3,1166.8L124.0,1171.9L124.7,1177.8L125.4,1170.5L126.1,1171.3L126.8,1168.9L127.5,1174.2L128.2,1166.3L128.9,1164.4L129.6,1173.4L130.3,1163.2L131.0,1161.7L131.7,1161.8L132.4,1163.4L133.1,1161.8L133.8,1165.7L134.5,1165.8L135.2,1162.2L135.9,1165.9L136.6,1164.1L137.3,1164.8L138.0,1164.9L138.7,1167.1L139.4,1170.9L140.1,1166.3L140.8,1167.0L141.5,1169.0L142.2,1167.7L142.9,1169.4L143.6,1170.8L144.3,1169.7L145.0,1174.4L145.7,1172.7L146.4,1171.4L147.1,1172.2L147.8,1179.5L148.5,1173.8L149.2,1177.6L149.9,1175.1L150.6,1175.2L151.3,1175.6L152.0,1177.0L152.7,1177.4L153.4,1170.2L154.1,1184.2L154.8,1178.9L155.5,1185.9L156.2,1183.3L156.9,1182.6L157.6,1179.5L158.3,1175.8L159.0,1180.4L159.7,1180.0L160.4,1185.0L161.1,1188.5L161.8,1179.6L162.5,1182.0L163.2,1186.3L163.9,1184.1L164.6,1186.5L165.3,1184.0L166.0,1185.9L166.7,1185.4L167.4,1187.3L168.1,1185.4L168.8,1193.5L169.5,1188.2L170.2,1191.5L170.9,1187.5L171.6,1189.0L172.3,1192.9L173.0,1188.3L173.7,1188.7L174.4,1192.5L175.1,1190.6L175.8,1191.3L176.5,1193.9L177.2,1191.7L177.9,1192.0L178.6,1197.0L179.3,1193.0L180.0,1194.7L180.7,1199.4L181.4,1201.7L182.1,1199.8L182.8,1202.3L183.5,1203.8L184.2,1206.2L184.9,1208.8L185.6,1208.6L186.3,1213.2L187.0,1223.2L187.7,1227.4L188.4,1227.0L189.1,1232.5L189.8,1247.4L190.5,1260.5L191.2,1272.1L191.9,1272.3L192.6,1267.2L193.3,1264.4L194.0,1257.2L194.7,1246.8L195.4,1247.2L196.1,1247.7L196.8,1248.9L197.5,1240.9L198.2,1245.2L198.9,1252.4L199.6,1263.2L200.3,1271.2L201.0,1262.3L201.7,1254.4L202.4,1249.4L203.1,1239.1L203.8,1231.1L204.5,1227.3L205.2,1232.5L205.9,1228.7L206.6,1227.0L207.3,1225.7L208.0,1223.0L208.7,1226.0L209.4,1219.0L210.1,1224.0L210.8,1218.1L211.5,1218.0L212.2,1220.0L212.9,1222.4L213.6,1227.0L214.3,1226.2L215.0,1228.8L215.7,1231.9L216.4,1228.8L217.1,1234.4L217.8,1235.4L218.5,1239.4L219.2,1242.9L219.9,1240.0L220.6,1243.2L221.3,1241.9L222.0,1244.2L222.7,1237.1L223.4,1237.1L224.1,1226.4L224.8,1224.7L225.5,1222.8L226.2,1212.3L226.9,1210.5L227.6,1212.1L228.3,1212.9L229.0,1210.6L229.7,1204.2L230.4,1195.5L231.1,1199.8L231.8,1200.1L232.5,1198.0L233.2,1201.4L233.9,1202.0L234.6,1211.0L235.3,1207.7L236.0,1207.7L236.7,1213.2L237.4,1218.9L238.1,1226.0L238.8,1234.7L239.5,1239.7L240.2,1246.2L240.9,1250.1L241.6,1253.8L242.3,1255.9L243.0,1260.9L243.7,1266.9L244.4,1269.4L245.1,1265.9L245.8,1261.2L246.5,1250.6L247.2,1243.8L247.9,1240.1L248.6,1236.0L249.3,1233.2L250.0,1225.2L250.7,1231.3L251.4,1229.0L252.1,1223.5L252.8,1223.0L253.5,1220.1L254.2,1219.8L254.9,1219.3L255.6,1221.7L256.3,1221.8L257.0,1215.5L257.7,1219.5L258.4,1214.4L259.1,1214.7L259.8,1217.7L260.5,1214.8L261.2,1213.0L261.9,1213.6L262.6,1211.4L263.3,1210.3L264.0,1216.7L264.7,1211.3L265.4,1212.5L266.1,1217.0L266.8,1209.8L267.5,1210.7L268.2,1207.6L268.9,1211.6L269.6,1210.0L270.3,1207.8L271.0,1207.1L271.7,1212.0L272.4,1212.7L273.1,1217.9L273.8,1218.0L274.5,1214.8L275.2,1213.2L275.9,1224.2L276.6,1224.8L277.3,1221.6L278.0,1227.1L278.7,1231.1L279.4,1231.4L280.1,1238.7L280.8,1232.7L281.5,1231.4L282.2,1227.0L282.9,1226.8L283.6,1228.4L284.3,1225.0L285.0,1223.6L285.7,1226.2L286.4,1221.5L287.1,1224.2L287.8,1220.7L288.5,1221.4L289.2,1218.0L289.9,1221.7L290.6,1217.9L291.3,1215.9L292.0,1215.9L292.7,1213.9L293.4,1213.3L294.1,1209.2L294.8,1211.9L295.5,1209.1L296.2,1202.5L296.9,1203.3L297.6,1204.7L298.3,1204.0L299.0,1201.5L299.7,1200.6L300.4,1200.3L301.1,1197.7L301.8,1196.0L302.5,1197.3L303.2,1193.0L303.9,1201.8L304.6,1193.5L305.3,1194.5L306.0,1198.9L306.7,1196.1L307.4,1198.3L308.1,1204.2L308.8,1197.5L309.5,1201.2L310.2,1198.7L310.9,1205.3L311.6,1200.3L312.3,1202.7L313.0,1198.7L313.7,1202.7L314.4,1200.4L315.1,1198.6L315.8,1197.7L316.5,1198.9L317.2,1197.3L317.9,1201.4L318.6,1200.7L319.3,1200.9L320.0,1201.9L320.7,1207.9L321.4,1204.4L322.1,1211.3L322.8,1213.0L323.5,1209.7L324.2,1213.7L324.9,1209.3L325.6,1219.3L326.3,1216.1L327.0,1215.0L327.7,1212.3L328.4,1214.0L329.1,1208.7L329.8,1214.1L330.5,1207.1L331.2,1207.5L331.9,1205.6L332.6,1198.5L333.3,1196.2L334.0,1187.9L334.7,1193.9L335.4,1193.1L336.1,1193.0L336.8,1195.4L337.5,1196.7L338.2,1192.1L338.9,1192.3L339.6,1196.3L340.3,1195.5L341.0,1191.6L341.7,1191.0L342.4,1186.5L343.1,1193.1L343.8,1196.0L344.5,1196.8L345.2,1208.9L345.9,1204.8L346.6,1209.1L347.3,1217.1L348.0,1224.4L348.7,1225.5L349.4,1216.8L350.1,1218.1L350.8,1210.0L351.5,1205.9L352.2,1212.2L352.9,1213.2L353.6,1207.0L354.3,1208.5L355.0,1207.0L355.7,1210.0L356.4,1209.9L357.1,1212.1L357.8,1206.5L358.5,1205.5L359.2,1208.5L359.9,1210.4L360.6,1207.6L361.3,1200.1L362.0,1200.4L362.7,1199.8L363.4,1202.4L364.1,1196.9L364.8,1199.8L365.5,1193.6L366.2,1192.0L366.9,1193.5L367.6,1188.9L368.3,1194.4L369.0,1196.7L369.7,1194.6L370.4,1185.9L371.1,1182.4L371.8,1184.0L372.5,1183.1L373.2,1182.7L373.9,1179.6L374.6,1181.9L375.3,1184.8L376.0,1175.7L376.7,1179.4L377.4,1174.7L378.1,1173.7L378.8,1165.2L379.5,1176.0L380.2,1168.6L380.9,1174.3L381.6,1168.0L382.3,1166.0L383.0,1162.4L383.7,1171.6L384.4,1161.7L385.1,1161.1L385.8,1160.0L386.5,1157.3L387.2,1159.4L387.9,1163.8L388.6,1164.8L389.3,1154.6L390.0,1157.3L390.7,1154.2L391.4,1162.1L392.1,1157.3L392.8,1155.1L393.5,1162.4L394.2,1152.2L394.9,1152.0L395.6,1159.3L396.3,1152.2L397.0,1161.3L397.7,1152.8L398.4,1151.1L399.1,1160.2L399.8,1147.7L400.5,1156.8L401.2,1154.9L401.9,1150.2L402.6,1158.9L403.3,1152.6L404.0,1151.7L404.7,1160.2L405.4,1158.9L406.1,1160.8L406.8,1154.2L407.5,1149.3L408.2,1149.5L408.9,1156.9L409.6,1149.0L410.3,1152.2L411.0,1149.0L411.7,1159.9L412.4,1148.8L413.1,1148.7L413.8,1156.8L414.5,1158.5L415.2,1159.3L415.9,1149.5L416.6,1150.5L417.3,1146.4L418.0,1153.8L418.7,1150.8L419.4,1150.2L420.1,1150.0L420.8,1146.9L421.5,1156.3L422.2,1146.3L422.9,1154.0L423.6,1147.5L424.3,1147.9L425.0,1151.0L425.7,1144.7L426.4,1158.6L427.1,1157.9L427.8,1156.8L428.5,1157.1L429.2,1160.1L429.9,1160.1L430.6,1159.1L431.3,1162.6L432.0,1168.8L432.7,1167.5L433.4,1170.9L434.1,1161.4L434.8,1167.7L435.5,1167.0L436.2,1173.2L436.9,1166.3L437.6,1172.4L438.3,1167.7L439.0,1166.4L439.7,1173.2L440.4,1166.1L441.1,1168.0L441.8,1168.3L442.5,1170.4L443.2,1169.7L443.9,1173.7L444.6,1170.4L445.3,1172.1L446.0,1175.8L446.7,1176.0L447.4,1174.0L448.1,1179.4L448.8,1178.0L449.5,1177.4L450.2,1190.5L450.9,1189.8L451.6,1193.5L452.3,1191.7L453.0,1193.0L453.7,1197.1L454.4,1205.5L455.1,1202.0L455.8,1207.4L456.5,1203.2L457.2,1210.8L457.9,1214.6L458.6,1217.7L459.3,1222.3L460.0,1222.0L460.7,1227.5L461.4,1238.8L462.1,1240.2L462.8,1252.4L463.5,1262.9L464.2,1268.5L464.9,1278.9L465.6,1275.7L466.3,1271.0L467.0,1263.9L467.7,1254.3L468.4,1247.2L469.1,1239.4L469.8,1235.8L470.5,1223.0L471.2,1217.4L471.9,1212.6L472.6,1211.3L473.3,1208.8L474.0,1205.9L474.7,1194.2L475.4,1197.3L476.1,1202.9L476.8,1202.1L477.5,1196.2L478.2,1197.3L478.9,1192.9L479.6,1197.0L480.3,1199.0L481.0,1196.7L481.7,1195.8L482.4,1199.4L483.1,1195.1L483.8,1196.6L484.5,1194.0L485.2,1191.9L485.9,1192.9L486.6,1192.7L487.3,1188.3L488.0,1187.3L488.7,1181.7L489.4,1186.8L490.1,1183.0L490.8,1187.7L491.5,1180.5L492.2,1189.5L492.9,1189.8L493.6,1180.7L494.3,1181.6L495.0,1183.9L495.7,1183.4L496.4,1183.1L497.1,1188.0L497.8,1182.5L498.5,1186.0L499.2,1178.8L499.9,1181.0L500.6,1185.1L501.3,1179.5L502.0,1182.8L502.7,1171.6L503.4,1179.9L504.1,1176.1L504.8,1173.7L505.5,1175.5L506.2,1171.7L506.9,1171.7L507.6,1170.0L508.3,1169.2L509.0,1171.4L509.7,1167.0L510.4,1166.5L511.1,1165.5L511.8,1167.3L512.5,1171.4L513.2,1162.3L513.9,1162.6L514.6,1160.7L515.3,1162.3L516.0,1160.2L516.7,1159.3L517.4,1161.3L518.1,1158.6L518.8,1164.4L519.5,1161.5L520.2,1162.9L520.9,1158.5L521.6,1156.9L522.3,1155.6L523.0,1155.6L523.7,1155.9L524.4,1160.1L525.1,1158.8L525.8,1160.4L526.5,1156.1L527.2,1153.0L527.9,1156.6L528.6,1158.2L529.3,1161.6L530.0,1156.9L530.7,1150.6L531.4,1156.5L532.1,1150.3L532.8,1160.5L533.5,1151.8L534.2,1149.0L534.9,1153.5L535.6,1148.3L536.3,1152.1L537.0,1146.9L537.7,1154.0L538.4,1148.9L539.1,1150.5L539.8,1149.7L540.5,1151.3L541.2,1145.4L541.9,1146.4L542.6,1145.1L543.3,1146.5L544.0,1146.9L544.7,1145.6L545.4,1146.6L546.1,1145.4L546.8,1143.8L547.5,1147.5L548.2,1147.6L548.9,1141.0L549.6,1143.5L550.3,1143.6L551.0,1146.9L551.7,1148.8L552.4,1144.4L553.1,1142.1L553.8,1138.7L554.5,1145.9L555.2,1144.3L555.9,1154.1L556.6,1144.0L557.3,1142.7L558.0,1145.4L558.7,1153.0L559.4,1143.0L560.1,1143.2L560.8,1152.3L561.5,1143.6L562.2,1144.8L562.9,1144.9L563.6,1144.2L564.3,1144.3L565.0,1144.4L565.7,1139.8L566.4,1147.5L567.1,1147.1L567.8,1144.0L568.5,1147.0L569.2,1139.3L569.9,1153.8L570.6,1149.5L571.3,1145.3L572.0,1145.6L572.7,1149.7L573.4,1145.8L574.1,1144.6L574.8,1149.4L575.5,1145.4L576.2,1142.3L576.9,1146.4L577.6,1142.9L578.3,1142.2L579.0,1144.9L579.7,1151.0L580.4,1142.9L581.1,1141.4L581.8,1148.0L582.5,1147.3L583.2,1141.5L583.9,1141.2L584.6,1145.5L585.3,1140.5L586.0,1142.9L586.7,1142.9L587.4,1140.2L588.1,1144.5L588.8,1149.3L589.5,1148.6L590.2,1144.9L590.9,1138.8L591.6,1148.1L592.3,1142.4L593.0,1138.9L593.7,1146.4L594.4,1135.0L595.1,1141.8L595.8,1133.0L596.5,1141.3L597.2,1129.2L597.9,1129.3L598.6,1139.0L599.3,1126.1L600.0,1126.5L600.7,1136.9L601.4,1135.8L602.1,1126.2L602.8,1128.6L603.5,1127.6L604.2,1127.9L604.9,1139.0L605.6,1135.9L606.3,1130.7L607.0,1143.1L607.7,1143.2L608.4,1134.5L609.1,1135.9L609.8,1138.3L610.5,1148.8L611.2,1148.4L611.9,1143.6L612.6,1148.1L613.3,1139.9L614.0,1142.9L614.7,1138.9L615.4,1138.9L616.1,1140.4L616.8,1140.4L617.5,1138.8L618.2,1137.4L618.9,1134.2L619.6,1136.4L620.3,1118.5L621.0,1091.4L621.7,1108.3L622.4,1115.5L623.1,1135.3L623.8,1127.8L624.5,1126.1L625.2,1129.0L625.9,1128.7L626.6,1133.0L627.3,1139.3L628.0,1137.0L628.7,1135.9L629.4,1128.4L630.1,1137.8L630.8,1139.8L631.5,1131.3L632.2,1132.7L632.9,1136.3L633.6,1144.8L634.3,1146.2L635.0,1142.1L635.7,1142.7L636.4,1151.5L637.1,1152.5L637.8,1156.7L638.5,1165.9L639.2,1163.7L639.9,1165.3L640.6,1168.0L641.3,1171.1L642.0,1179.4L642.0,1340.5Z" fill="#d3d3d3"/>
<line x1="92.5" y1="1079.0" x2="92.5" y2="1340.5" stroke="#efefef" stroke-width="1"/>
<line x1="92.5" y1="1340.7" x2="642.3" y2="1340.7" stroke="#9c9c9c" stroke-width="1.15" stroke-dasharray="7 6" />
<line x1="92.5" y1="1297.1" x2="642.3" y2="1297.1" stroke="#9c9c9c" stroke-width="1.15" stroke-dasharray="7 6" />
<line x1="92.5" y1="1253.5" x2="642.3" y2="1253.5" stroke="#9c9c9c" stroke-width="1.15" stroke-dasharray="7 6" />
<line x1="92.5" y1="1210.0" x2="642.3" y2="1210.0" stroke="#9c9c9c" stroke-width="1.15" stroke-dasharray="7 6" />
<line x1="92.5" y1="1166.4" x2="642.3" y2="1166.4" stroke="#9c9c9c" stroke-width="1.15" stroke-dasharray="7 6" />
<line x1="92.5" y1="1122.8" x2="642.3" y2="1122.8" stroke="#9c9c9c" stroke-width="1.15" stroke-dasharray="7 6" />
<line x1="92.5" y1="1079.2" x2="642.3" y2="1079.2" stroke="#9c9c9c" stroke-width="1.15" stroke-dasharray="7 6" />
<line x1="92.5" y1="1177.1" x2="642.3" y2="1177.1" stroke="#f2b43c" stroke-width="2.3" stroke-dasharray="7 6" />
<g opacity="0.65"><path d="M86.0,1340.5L86.0,1137.8L87.2,1131.3L88.3,1144.4L89.5,1133.5L90.6,1148.7L91.8,1183.6L92.9,1188.0L94.1,1179.2L95.2,1196.7L96.4,1185.8L97.5,1192.3L98.7,1193.8L99.8,1340.5L101.0,1265.8L102.1,1216.7L103.3,1151.0L104.4,1340.5L105.6,1198.9L106.7,1201.0L107.9,1191.8L109.0,1203.5L110.2,1159.6L111.3,1198.5L112.5,1213.7L113.6,1220.5L114.8,1170.7L115.9,1171.9L117.1,1131.4L118.2,1209.1L119.4,1151.6L120.5,1207.9L121.7,1192.0L122.8,1193.1L124.0,1126.9L125.1,1340.5L126.3,1174.3L127.4,1145.0L128.6,1182.2L129.7,1200.9L130.9,1165.2L132.0,1147.4L133.2,1100.8L134.3,1203.4L135.5,1179.1L136.6,1113.9L137.8,1340.5L138.9,1340.5L140.1,1169.4L141.2,1140.0L142.4,1129.2L143.5,1222.1L144.7,1138.4L145.8,1204.9L147.0,1185.7L148.1,1128.3L149.3,1132.0L150.4,1130.7L151.6,1147.7L152.7,1193.1L153.9,1183.9L155.0,1167.9L156.2,1197.1L157.3,1127.9L158.5,1144.3L159.6,1193.9L160.8,1139.7L161.9,1174.0L163.1,1340.5L164.2,1340.5L165.4,1187.6L166.5,1176.8L167.7,1177.8L168.8,1137.5L170.0,1140.6L171.1,1184.8L172.3,1137.5L173.4,1196.9L174.6,1184.3L175.7,1182.3L176.9,1196.7L178.0,1176.6L179.2,1175.2L180.3,1192.0L181.5,1196.9L182.6,1340.5L183.8,1340.5L184.9,1134.8L186.1,1157.8L187.2,1208.4L188.4,1145.2L189.5,1340.5L190.7,1340.5L191.8,1206.4L193.0,1156.2L194.1,1340.5L195.3,1340.5L196.4,1200.8L197.6,1194.3L198.7,1134.6L199.9,1145.7L201.0,1132.9L202.2,1159.2L203.3,1137.6L204.5,1208.1L205.6,1151.5L206.8,1185.1L207.9,1258.8L209.1,1133.9L210.2,1209.3L211.4,1208.1L212.5,1167.3L213.7,1197.4L214.8,1127.5L216.0,1200.9L217.1,1079.0L218.3,1340.5L219.4,1137.3L220.6,1130.4L221.7,1186.3L222.9,1177.2L224.0,1129.9L225.2,1187.6L226.3,1171.7L227.5,1196.5L228.6,1196.6L229.8,1134.2L230.9,1133.1L232.1,1185.5L233.2,1132.0L234.4,1153.0L235.5,1205.1L236.7,1186.4L237.8,1153.3L239.0,1156.3L240.1,1191.8L241.3,1177.8L242.4,1148.2L243.6,1183.7L244.7,1340.5L245.9,1340.5L247.0,1150.1L248.2,1178.8L249.3,1140.1L250.5,1200.5L251.6,1141.3L252.8,1224.7L253.9,1187.5L255.1,1153.3L256.2,1200.7L257.4,1146.9L258.5,1209.2L259.7,1189.6L260.8,1133.7L262.0,1340.5L263.1,1340.5L264.3,1174.9L265.4,1209.5L266.6,1340.5L267.7,1340.5L268.9,1193.7L270.0,1202.9L271.2,1340.5L272.3,1147.2L273.5,1135.7L274.6,1200.5L275.8,1123.6L276.9,1138.7L278.1,1128.3L279.2,1121.0L280.4,1340.5L281.5,1121.9L282.7,1134.6L283.8,1144.6L285.0,1161.9L286.1,1182.2L287.3,1139.8L288.4,1130.8L289.6,1168.9L290.7,1129.3L291.9,1113.6L293.0,1150.7L294.2,1183.0L295.3,1112.8L296.5,1112.8L297.6,1194.2L298.8,1131.8L299.9,1155.5L301.1,1127.1L302.2,1119.6L303.4,1120.1L304.5,1247.0L305.7,1191.6L306.8,1136.4L308.0,1153.8L309.1,1192.8L310.3,1148.2L311.4,1126.2L312.6,1196.5L313.7,1182.1L314.9,1144.4L316.0,1148.0L317.2,1340.5L318.3,1161.7L319.5,1144.6L320.6,1190.5L321.8,1125.5L322.9,1138.2L324.1,1190.2L325.2,1199.5L326.4,1192.0L327.5,1147.8L328.7,1340.5L329.8,1185.4L331.0,1148.0L332.1,1186.6L333.3,1340.5L334.4,1171.2L335.6,1195.3L336.7,1135.6L337.9,1130.8L339.0,1191.9L340.2,1135.7L341.3,1135.0L342.5,1340.5L343.6,1150.9L344.8,1138.6L345.9,1198.9L347.1,1136.1L348.2,1147.6L349.4,1340.5L350.5,1190.4L351.7,1340.5L352.8,1340.5L354.0,1166.2L355.1,1142.8L356.3,1201.7L357.4,1156.9L358.6,1132.2L359.7,1128.1L360.9,1144.7L362.0,1152.1L363.2,1252.7L364.3,1192.2L365.5,1186.4L366.6,1174.5L367.8,1134.4L368.9,1133.0L370.1,1161.0L371.2,1128.5L372.4,1192.7L373.5,1136.4L374.7,1145.7L375.8,1139.0L377.0,1253.3L378.1,1131.8L379.3,1150.7L380.4,1140.0L381.6,1189.4L382.7,1124.6L383.9,1167.6L385.0,1142.0L386.2,1126.1L387.3,1177.4L388.5,1144.3L389.6,1134.2L390.8,1139.1L391.9,1131.1L393.1,1170.3L394.2,1143.1L395.4,1140.1L396.5,1142.8L397.7,1149.9L398.8,1175.1L400.0,1188.0L401.1,1191.9L402.3,1156.5L403.4,1133.2L404.6,1140.0L405.7,1141.8L406.9,1146.6L408.0,1146.4L409.2,1148.4L410.3,1146.8L411.5,1175.8L412.6,1340.5L413.8,1139.6L414.9,1134.5L416.1,1143.9L417.2,1125.8L418.4,1132.2L419.5,1133.7L420.7,1134.7L421.8,1172.0L423.0,1139.0L424.1,1159.7L425.3,1200.0L426.4,1141.7L427.6,1194.5L428.7,1130.9L429.9,1134.7L431.0,1136.0L432.2,1132.1L433.3,1154.6L434.5,1124.4L435.6,1167.6L436.8,1161.2L437.9,1177.3L439.1,1141.1L440.2,1189.3L441.4,1143.6L442.5,1146.5L443.7,1127.7L444.8,1125.3L446.0,1122.2L447.1,1139.5L448.3,1179.6L449.4,1125.3L450.6,1123.6L451.7,1170.0L452.9,1167.1L454.0,1191.5L455.2,1186.1L456.3,1127.2L457.5,1190.6L458.6,1125.4L459.8,1147.7L460.9,1340.5L462.1,1340.5L463.2,1340.5L464.4,1340.5L465.5,1152.0L466.7,1135.0L467.8,1177.5L469.0,1133.3L470.1,1153.1L471.3,1143.2L472.4,1156.6L473.6,1140.6L474.7,1145.1L475.9,1157.4L477.0,1185.4L478.2,1146.9L479.3,1243.0L480.5,1182.8L481.6,1143.4L482.8,1136.1L483.9,1181.0L485.1,1193.3L486.2,1158.5L487.4,1141.7L488.5,1161.7L489.7,1340.5L490.8,1166.1L492.0,1141.0L493.1,1136.3L494.3,1184.1L495.4,1138.6L496.6,1156.6L497.7,1340.5L498.9,1145.3L500.0,1138.0L501.2,1153.1L502.3,1142.0L503.5,1157.0L504.6,1152.2L505.8,1148.0L506.9,1146.9L508.1,1137.5L509.2,1195.9L510.4,1256.8L511.5,1192.3L512.7,1134.6L513.8,1150.2L515.0,1248.0L516.1,1142.6L517.3,1170.4L518.4,1155.6L519.6,1177.9L520.7,1147.6L521.9,1171.8L523.0,1140.3L524.2,1140.9L525.3,1144.0L526.5,1227.6L527.6,1259.7L528.8,1221.7L529.9,1157.9L531.1,1127.9L532.2,1162.8L533.4,1174.6L534.5,1186.5L535.7,1192.0L536.8,1172.1L538.0,1154.6L539.1,1127.9L540.3,1142.8L541.4,1143.2L542.6,1188.8L543.7,1340.5L544.9,1190.7L546.0,1217.4L547.2,1133.3L548.3,1142.4L549.5,1144.0L550.6,1146.6L551.8,1138.3L552.9,1124.8L554.1,1145.7L555.2,1244.7L556.4,1147.3L557.5,1128.6L558.7,1137.8L559.8,1132.5L561.0,1144.6L562.1,1129.0L563.3,1127.1L564.4,1166.6L565.6,1142.1L566.7,1127.5L567.9,1164.1L569.0,1151.1L570.2,1143.3L571.3,1156.1L572.5,1151.9L573.6,1144.4L574.8,1164.2L575.9,1150.8L577.1,1141.0L578.2,1145.1L579.4,1126.7L580.5,1220.8L581.7,1340.5L582.8,1142.1L584.0,1125.5L585.1,1149.0L586.3,1190.2L587.4,1164.0L588.6,1128.4L589.7,1187.1L590.9,1125.7L592.0,1190.8L593.2,1133.8L594.3,1176.4L595.5,1131.6L596.6,1132.6L597.8,1177.9L598.9,1140.5L600.1,1133.3L601.2,1121.7L602.4,1163.4L603.5,1120.8L604.7,1145.4L605.8,1152.5L607.0,1129.7L608.1,1137.0L609.3,1147.8L610.4,1144.6L611.6,1120.9L612.7,1129.2L613.9,1163.6L615.0,1172.5L616.2,1179.6L617.3,1136.9L618.5,1340.5L619.6,1340.5L620.8,1340.5L621.9,1142.6L623.1,1147.3L624.2,1154.2L625.4,1196.0L626.5,1179.8L627.7,1148.4L628.8,1148.3L630.0,1340.5L631.1,1150.0L632.3,1177.9L633.4,1149.1L634.6,1131.8L635.7,1153.5L636.9,1148.5L638.0,1167.4L639.2,1153.9L640.3,1162.9L641.5,1192.5L641.5,1340.5Z" fill="rgb(244,176,35)" stroke="rgb(244,176,35)" stroke-width="0.9" stroke-linejoin="round"/></g>
<text x="76" y="1346.7" text-anchor="end" font-size="18" fill="#1a1a1a">0</text>
<text x="76" y="1303.1" text-anchor="end" font-size="18" fill="#1a1a1a">20</text>
<text x="76" y="1259.5" text-anchor="end" font-size="18" fill="#1a1a1a">40</text>
<text x="76" y="1216.0" text-anchor="end" font-size="18" fill="#1a1a1a">60</text>
<text x="76" y="1172.4" text-anchor="end" font-size="18" fill="#1a1a1a">80</text>
<text x="76" y="1128.8" text-anchor="end" font-size="18" fill="#1a1a1a">100</text>
<text x="76" y="1085.2" text-anchor="end" font-size="18" fill="#1a1a1a">120</text>
<text x="86.0" y="1365.7" text-anchor="middle" font-size="18.5" fill="#1a1a1a">0km</text>
<text x="178.7" y="1365.7" text-anchor="middle" font-size="18.5" fill="#1a1a1a">17.7km</text>
<text x="271.4" y="1365.7" text-anchor="middle" font-size="18.5" fill="#1a1a1a">35.4km</text>
<text x="364.1" y="1365.7" text-anchor="middle" font-size="18.5" fill="#1a1a1a">53.1km</text>
<text x="456.8" y="1365.7" text-anchor="middle" font-size="18.5" fill="#1a1a1a">70.8km</text>
<text x="549.5" y="1365.7" text-anchor="middle" font-size="18.5" fill="#1a1a1a">88.5km</text>
<text x="642.2" y="1365.7" text-anchor="middle" font-size="18.5" fill="#1a1a1a">106.2km</text>
</svg>

<div class="abs sep" style="top:1432.5px"></div>

<!-- system nav -->
<div class="abs nav">
<svg width="700" height="85" viewBox="0 0 700 85">
<rect x="183.8" y="29.5" width="26.4" height="26" rx="3.5" fill="#9e9e9e"/>
<circle cx="347.5" cy="41.7" r="16.2" fill="none" stroke="#9e9e9e" stroke-width="3.2"/>
<circle cx="347.5" cy="41.7" r="9.6" fill="#9e9e9e"/>
<path d="M487 41.7L509.8 28.3V55.1Z" fill="#9e9e9e" stroke="#9e9e9e" stroke-width="2" stroke-linejoin="round"/>
</svg>
</div>
</body>
</html>
